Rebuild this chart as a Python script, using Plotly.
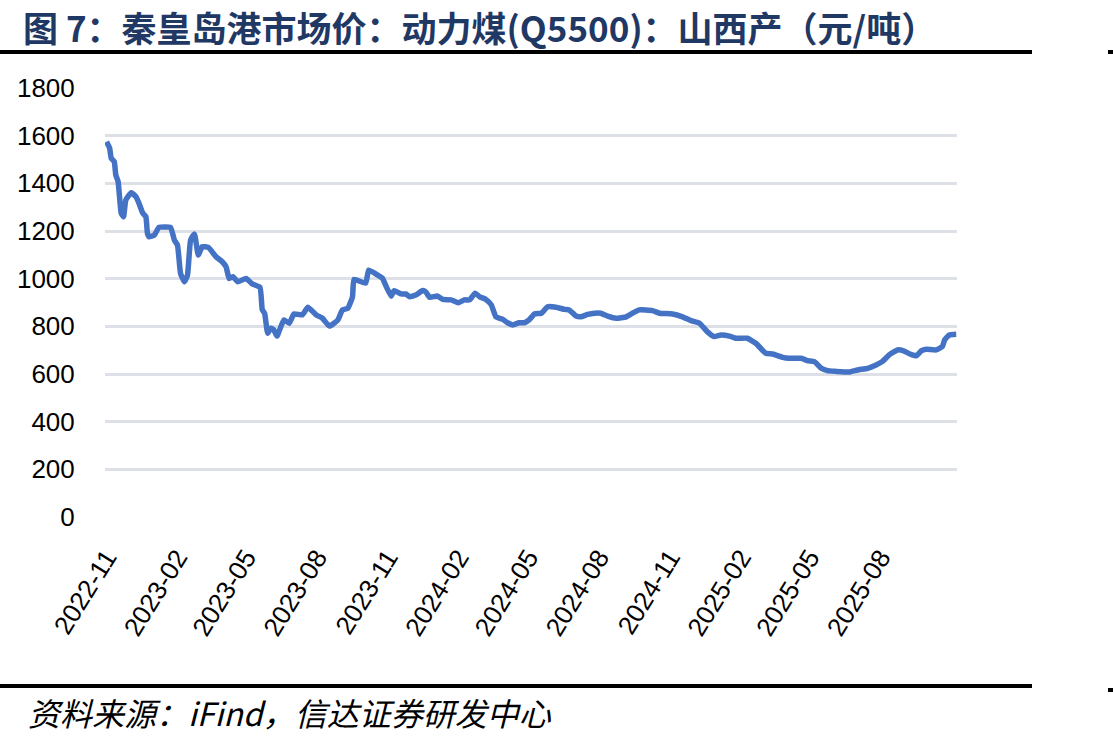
import plotly.graph_objects as go

dates = [
    "2022-11-01", "2022-11-05", "2022-11-07", "2022-11-11", "2022-11-13", "2022-11-16",
    "2022-11-20", "2022-11-23", "2022-11-26", "2022-12-03", "2022-12-09", "2022-12-13",
    "2022-12-18", "2022-12-22", "2022-12-24", "2022-12-26", "2023-01-02", "2023-01-08",
    "2023-01-23", "2023-01-28", "2023-02-01", "2023-02-05", "2023-02-10", "2023-02-14",
    "2023-02-18", "2023-02-23", "2023-02-28", "2023-03-05", "2023-03-13", "2023-03-23",
    "2023-03-31", "2023-04-05", "2023-04-09", "2023-04-14", "2023-04-20", "2023-05-01",
    "2023-05-09", "2023-05-19", "2023-05-22", "2023-05-25", "2023-05-29", "2023-06-02",
    "2023-06-06", "2023-06-10", "2023-06-19", "2023-06-26", "2023-07-02", "2023-07-13",
    "2023-07-20", "2023-07-31", "2023-08-08", "2023-08-17", "2023-08-28", "2023-09-03",
    "2023-09-10", "2023-09-16", "2023-09-18", "2023-10-03", "2023-10-07", "2023-10-16",
    "2023-10-25", "2023-10-27", "2023-11-05", "2023-11-09", "2023-11-18", "2023-11-24",
    "2023-11-29", "2023-12-07", "2023-12-16", "2023-12-20", "2023-12-25", "2024-01-04",
    "2024-01-11", "2024-01-22", "2024-01-31", "2024-02-08", "2024-02-15", "2024-02-22",
    "2024-02-28", "2024-03-07", "2024-03-14", "2024-03-20", "2024-03-29", "2024-04-04",
    "2024-04-11", "2024-04-19", "2024-04-26", "2024-05-02", "2024-05-09", "2024-05-18",
    "2024-05-26", "2024-06-06", "2024-06-17", "2024-06-23", "2024-07-02", "2024-07-08",
    "2024-07-17", "2024-07-26", "2024-08-03", "2024-08-12", "2024-08-23", "2024-09-05",
    "2024-09-13", "2024-09-22", "2024-10-09", "2024-10-18", "2024-11-04", "2024-11-17",
    "2024-11-28", "2024-12-09", "2024-12-19", "2024-12-28", "2025-01-06", "2025-01-17",
    "2025-01-25", "2025-02-09", "2025-02-20", "2025-03-05", "2025-03-14", "2025-03-27",
    "2025-04-04", "2025-04-20", "2025-04-28", "2025-05-07", "2025-05-16", "2025-05-24",
    "2025-06-04", "2025-06-21", "2025-07-02", "2025-07-15", "2025-07-26", "2025-08-03",
    "2025-08-12", "2025-08-23", "2025-08-30", "2025-09-08", "2025-09-16", "2025-09-23",
    "2025-09-29", "2025-10-12", "2025-10-20", "2025-10-23", "2025-10-29", "2025-11-07",
]

prices = [
    1575, 1548, 1506, 1491, 1435, 1407,
    1275, 1260, 1330, 1361, 1344, 1317,
    1275, 1260, 1191, 1176, 1183, 1215,
    1215, 1162, 1141, 1022, 987, 1015,
    1162, 1187, 1099, 1134, 1131, 1092,
    1071, 1050, 1001, 1008, 987, 1001,
    978, 964, 869, 855, 771, 792,
    785, 759, 827, 813, 852, 848,
    880, 848, 834, 801, 827, 869,
    876, 924, 997, 981, 1036, 1020,
    1001, 987, 927, 950, 936, 936,
    924, 931, 950, 945, 922, 927,
    913, 911, 899, 911, 911, 939,
    924, 913, 890, 840, 829, 815,
    806, 815, 815, 827, 852, 855,
    882, 880, 871, 869, 843, 840,
    850, 855, 855, 843, 834, 840,
    855, 869, 866, 855, 852, 840,
    824, 813, 778, 757, 764, 759,
    750, 750, 729, 687, 684, 670,
    666, 666, 656, 652, 624, 614,
    611, 608, 617, 624, 638, 652,
    680, 701, 698, 684, 676, 698,
    704, 701, 715, 743, 764, 767,
]

tick_dates = ["2022-11-01", "2023-02-01", "2023-05-01", "2023-08-01", "2023-11-01",
              "2024-02-01", "2024-05-01", "2024-08-01", "2024-11-01", "2025-02-01",
              "2025-05-01", "2025-08-01"]
tick_labels = ["2022-11", "2023-02", "2023-05", "2023-08", "2023-11", "2024-02",
               "2024-05", "2024-08", "2024-11", "2025-02", "2025-05", "2025-08"]
y_ticks = [0, 200, 400, 600, 800, 1000, 1200, 1400, 1600, 1800]

title_text = "图 7：秦皇岛港市场价：动力煤(Q5500)：山西产（元/吨）"
source_text = "资料来源：<i>iFind</i>，信达证券研发中心"

fig = go.Figure()
fig.add_trace(go.Scatter(
    x=dates, y=prices, mode="lines",
    line=dict(color="#4472C4", width=5.5, shape="spline", smoothing=0.4),
    hoverinfo="skip", showlegend=False,
))

fig.update_layout(
    width=1113, height=742,
    margin=dict(l=105, r=156, t=88, b=225, pad=0),
    paper_bgcolor="white", plot_bgcolor="white",
    font=dict(family="Liberation Sans, Arial, sans-serif", color="black", size=26),
    xaxis=dict(
        type="date",
        range=["2022-10-30", "2025-11-08"],
        tickmode="array", tickvals=tick_dates, ticktext=tick_labels,
        tickangle=-58, showgrid=False, zeroline=False, showline=False,
        ticks="outside", ticklen=14, tickcolor="rgba(0,0,0,0)",
        tickfont=dict(size=26),
    ),
    yaxis=dict(
        range=[0, 1800],
        tickmode="array", tickvals=y_ticks,
        showgrid=True, gridcolor="#DDE1E7", gridwidth=2.5,
        zeroline=False, showline=False,
        ticks="outside", ticklen=24, tickcolor="rgba(0,0,0,0)",
        tickfont=dict(size=26),
    ),
)

def px_x(px):
    return (px - 105) / 852.0

def px_y(py):
    return (517 - py) / 429.0

# title & source
fig.add_annotation(
    xref="paper", yref="paper", x=px_x(22), y=px_y(0), xanchor="left", yanchor="top",
    text="<b>" + title_text + "</b>", showarrow=False, borderpad=0,
    font=dict(family="Noto Sans CJK SC", size=35, color="#1F3864"),
)
fig.add_annotation(
    xref="paper", yref="paper", x=px_x(26), y=px_y(712), xanchor="left", yanchor="middle",
    text=source_text, showarrow=False,
    font=dict(family="Noto Sans CJK SC", size=32, color="black", style="italic"),
)

for (x0, x1, y0, y1) in [(0, 1032, 50, 54), (1108, 1113, 50, 54),
                         (0, 1032, 684, 688), (1108, 1113, 688, 692)]:
    fig.add_shape(type="rect", xref="paper", yref="paper",
                  x0=px_x(x0), x1=px_x(x1), y0=px_y(y1), y1=px_y(y0),
                  fillcolor="black", line=dict(width=0))

fig.write_html("out.html")
